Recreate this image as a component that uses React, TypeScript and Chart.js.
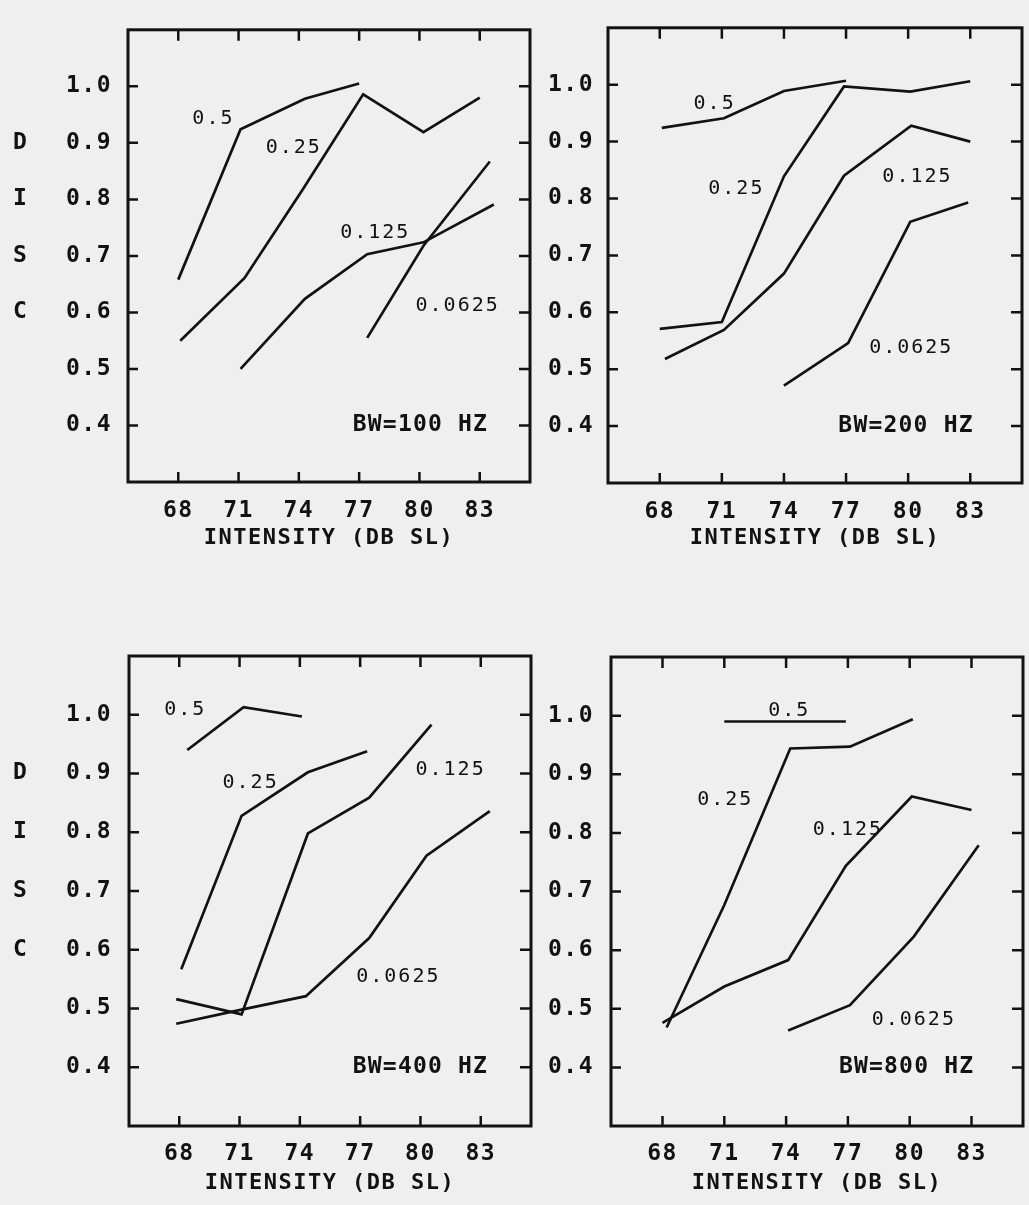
import React, { useEffect, useRef } from 'react';
import { Chart, registerables } from 'chart.js';

Chart.register(...registerables);

const FONT = '"DejaVu Sans Mono", "Liberation Mono", monospace';
const INK = '#121212';
const BG = '#efefef';

// ---------- axes / text ----------
const xTicks = [68, 71, 74, 77, 80, 83];
const yTicks = [0.4, 0.5, 0.6, 0.7, 0.8, 0.9, 1.0];
const discLetters = ['D', 'I', 'S', 'C'];
const discValues = [0.9, 0.8, 0.7, 0.6];
const seriesNames = ['0.5', '0.25', '0.125', '0.0625'];
const bandwidthLabels = ['BW=100 HZ', 'BW=200 HZ', 'BW=400 HZ', 'BW=800 HZ'];
const xTitle = 'INTENSITY (DB SL)';

// ---------- data: [intensity, DISC] ----------
// BW = 100 Hz
const bw100_s05 = [[68.0, 0.658], [71.1, 0.924], [74.3, 0.978], [77.0, 1.005]];
const bw100_s025 = [[68.1, 0.55], [71.3, 0.661], [74.2, 0.818], [77.2, 0.986], [80.2, 0.919], [83.0, 0.98]];
const bw100_s0125 = [[71.1, 0.5], [74.3, 0.624], [77.4, 0.703], [80.2, 0.724], [83.7, 0.791]];
const bw100_s0625 = [[77.4, 0.555], [80.2, 0.718], [83.5, 0.867]];

// BW = 200 Hz
const bw200_s05 = [[68.1, 0.924], [71.1, 0.941], [74.0, 0.989], [77.0, 1.007]];
const bw200_s025 = [[68.0, 0.571], [71.0, 0.583], [74.0, 0.839], [76.9, 0.997], [80.1, 0.988], [83.0, 1.006]];
const bw200_s0125 = [[68.25, 0.518], [71.1, 0.569], [74.0, 0.668], [76.9, 0.84], [80.15, 0.928], [83.0, 0.9]];
const bw200_s0625 = [[74.0, 0.471], [77.1, 0.546], [80.1, 0.759], [82.9, 0.793]];

// BW = 400 Hz
const bw400_s05 = [[68.4, 0.94], [71.2, 1.013], [74.1, 0.997]];
const bw400_s025 = [[68.1, 0.567], [71.1, 0.828], [74.4, 0.902], [77.35, 0.938]];
const bw400_s0125 = [[67.85, 0.516], [71.1, 0.49], [74.4, 0.798], [77.45, 0.859], [80.55, 0.983]];
const bw400_s0625 = [[67.85, 0.474], [71.1, 0.498], [74.3, 0.521], [77.45, 0.62], [80.3, 0.76], [83.45, 0.836]];

// BW = 800 Hz
const bw800_s05 = [[71.0, 0.99], [74.0, 0.99], [76.9, 0.99]];
const bw800_s025 = [[68.2, 0.468], [71.0, 0.677], [74.2, 0.944], [77.1, 0.947], [80.15, 0.994]];
const bw800_s0125 = [[68.0, 0.476], [71.0, 0.538], [74.1, 0.583], [76.9, 0.744], [80.1, 0.862], [83.0, 0.839]];
const bw800_s0625 = [[74.1, 0.463], [77.1, 0.506], [80.2, 0.623], [83.35, 0.779]];

// ---------- annotation anchors (data coords) ----------
const bw100_labelAt = [[69.75, 0.942], [73.75, 0.891], [77.8, 0.741], [81.9, 0.612]];
const bw200_labelAt = [[70.65, 0.966], [71.7, 0.817], [80.45, 0.839], [80.15, 0.538]];
const bw400_labelAt = [[68.3, 1.008], [71.55, 0.884], [81.5, 0.906], [78.9, 0.554]];
const bw800_labelAt = [[74.15, 1.009], [71.05, 0.857], [77.0, 0.806], [80.2, 0.481]];
const bwLabelAt = [[80.05, 0.4], [79.9, 0.4], [80.0, 0.4], [79.85, 0.401]];

type Pt = number[];
type PanelCfg = {
  left: number; top: number; width: number; height: number;
  padTop: number; padRight: number; yWidth: number; xHeight: number;
  yLabelPad: number; xLabelPad: number; disc: boolean;
  series: Pt[][]; labelAt: Pt[]; bw: string; bwAt: Pt;
};

const panels: PanelCfg[] = [
  { left: 0, top: 0, width: 540, height: 560, padTop: 10, padRight: 10, yWidth: 128, xHeight: 78, yLabelPad: 16, xLabelPad: 15, disc: true,
    series: [bw100_s05, bw100_s025, bw100_s0125, bw100_s0625], labelAt: bw100_labelAt, bw: bandwidthLabels[0], bwAt: bwLabelAt[0] },
  { left: 540, top: 0, width: 489, height: 560, padTop: 10, padRight: 7, yWidth: 68, xHeight: 77, yLabelPad: 14, xLabelPad: 15, disc: false,
    series: [bw200_s05, bw200_s025, bw200_s0125, bw200_s0625], labelAt: bw200_labelAt, bw: bandwidthLabels[1], bwAt: bwLabelAt[1] },
  { left: 0, top: 600, width: 540, height: 605, padTop: 56, padRight: 9, yWidth: 129, xHeight: 79, yLabelPad: 17, xLabelPad: 14, disc: true,
    series: [bw400_s05, bw400_s025, bw400_s0125, bw400_s0625], labelAt: bw400_labelAt, bw: bandwidthLabels[2], bwAt: bwLabelAt[2] },
  { left: 540, top: 600, width: 489, height: 605, padTop: 57, padRight: 6, yWidth: 71, xHeight: 79, yLabelPad: 17, xLabelPad: 14, disc: false,
    series: [bw800_s05, bw800_s025, bw800_s0125, bw800_s0625], labelAt: bw800_labelAt, bw: bandwidthLabels[3], bwAt: bwLabelAt[3] },
];

function makeFramePlugin(cfg: PanelCfg) {
  return {
    id: 'frame',
    beforeDraw(chart: any) {
      (chart.ctx as any).letterSpacing = '1.5px';
    },
    afterDatasetsDraw(chart: any) {
      const { ctx, chartArea: a, scales } = chart;
      const x = scales.x;
      const y = scales.y;
      ctx.save();
      ctx.strokeStyle = INK;
      ctx.fillStyle = INK;
      ctx.lineWidth = 3;
      ctx.strokeRect(a.left, a.top, a.right - a.left, a.bottom - a.top);
      ctx.lineWidth = 2.5;
      ctx.beginPath();
      for (const v of xTicks) {
        const px = x.getPixelForValue(v);
        ctx.moveTo(px, a.top);
        ctx.lineTo(px, a.top + 11);
        ctx.moveTo(px, a.bottom);
        ctx.lineTo(px, a.bottom - 10);
      }
      for (const v of yTicks) {
        const py = y.getPixelForValue(v);
        ctx.moveTo(a.left, py);
        ctx.lineTo(a.left + 10, py);
        ctx.moveTo(a.right, py);
        ctx.lineTo(a.right - 11, py);
      }
      ctx.stroke();

      ctx.textAlign = 'center';
      ctx.textBaseline = 'middle';
      // curve labels
      ctx.font = `20px ${FONT}`;
      (ctx as any).letterSpacing = '2px';
      cfg.labelAt.forEach((p, i) => {
        ctx.fillText(seriesNames[i], x.getPixelForValue(p[0]), y.getPixelForValue(p[1]));
      });
      // bandwidth label
      ctx.font = `bold 23px ${FONT}`;
      (ctx as any).letterSpacing = '1.2px';
      ctx.fillText(cfg.bw, x.getPixelForValue(cfg.bwAt[0]), y.getPixelForValue(cfg.bwAt[1]));
      // DISC letters
      if (cfg.disc) {
        ctx.font = `bold 23px ${FONT}`;
        (ctx as any).letterSpacing = '0px';
        discLetters.forEach((ch, i) => {
          ctx.fillText(ch, 20, y.getPixelForValue(discValues[i]));
        });
      }
      ctx.restore();
    },
  };
}

function Panel({ cfg }: { cfg: PanelCfg }) {
  const ref = useRef<HTMLCanvasElement | null>(null);
  useEffect(() => {
    if (!ref.current) return;
    const chart = new Chart(ref.current, {
      type: 'line',
      data: {
        datasets: cfg.series.map((pts, i) => ({
          label: seriesNames[i],
          data: pts.map(([xv, yv]) => ({ x: xv, y: yv })),
          borderColor: INK,
          backgroundColor: INK,
          borderWidth: 2.7,
          pointRadius: 0,
          pointHoverRadius: 0,
          fill: false,
          tension: 0,
          borderJoinStyle: 'miter',
        })),
      },
      options: {
        animation: false,
        responsive: false,
        maintainAspectRatio: false,
        events: [],
        layout: { padding: { top: cfg.padTop, right: cfg.padRight, left: 0, bottom: 0 } },
        plugins: { legend: { display: false }, tooltip: { enabled: false } },
        scales: {
          x: {
            type: 'linear',
            position: 'bottom',
            min: 65.5,
            max: 85.5,
            afterBuildTicks: (s: any) => { s.ticks = xTicks.map((v) => ({ value: v })); },
            afterFit: (s: any) => { s.height = cfg.xHeight; },
            grid: { display: false, drawTicks: false },
            border: { display: false },
            ticks: {
              padding: cfg.xLabelPad,
              autoSkip: false,
              maxRotation: 0,
              color: INK,
              font: { family: FONT, size: 23, weight: 'bold' },
              callback: (v: any) => String(v),
            },
            title: {
              display: true,
              text: xTitle,
              color: INK,
              font: { family: FONT, size: 22, weight: 'bold' },
              padding: { top: 0, bottom: 9 },
            },
          },
          y: {
            type: 'linear',
            min: 0.3,
            max: 1.1,
            afterBuildTicks: (s: any) => { s.ticks = yTicks.map((v) => ({ value: v })); },
            afterFit: (s: any) => { s.width = cfg.yWidth; },
            grid: { display: false, drawTicks: false },
            border: { display: false },
            ticks: {
              padding: cfg.yLabelPad,
              autoSkip: false,
              color: INK,
              font: { family: FONT, size: 23, weight: 'bold' },
              callback: (v: any) => Number(v).toFixed(1),
            },
          },
        },
      } as any,
      plugins: [makeFramePlugin(cfg) as any],
    });
    return () => chart.destroy();
  }, [cfg]);
  return (
    <canvas
      ref={ref}
      width={cfg.width}
      height={cfg.height}
      style={{ position: 'absolute', left: cfg.left, top: cfg.top, width: cfg.width, height: cfg.height }}
    />
  );
}

export default function App() {
  useEffect(() => {
    document.body.style.background = BG;
  }, []);
  return (
    <div style={{ position: 'absolute', left: 0, top: 0, width: 1029, height: 1205, background: BG, overflow: 'hidden' }}>
      {panels.map((p, i) => (
        <Panel key={i} cfg={p} />
      ))}
    </div>
  );
}
